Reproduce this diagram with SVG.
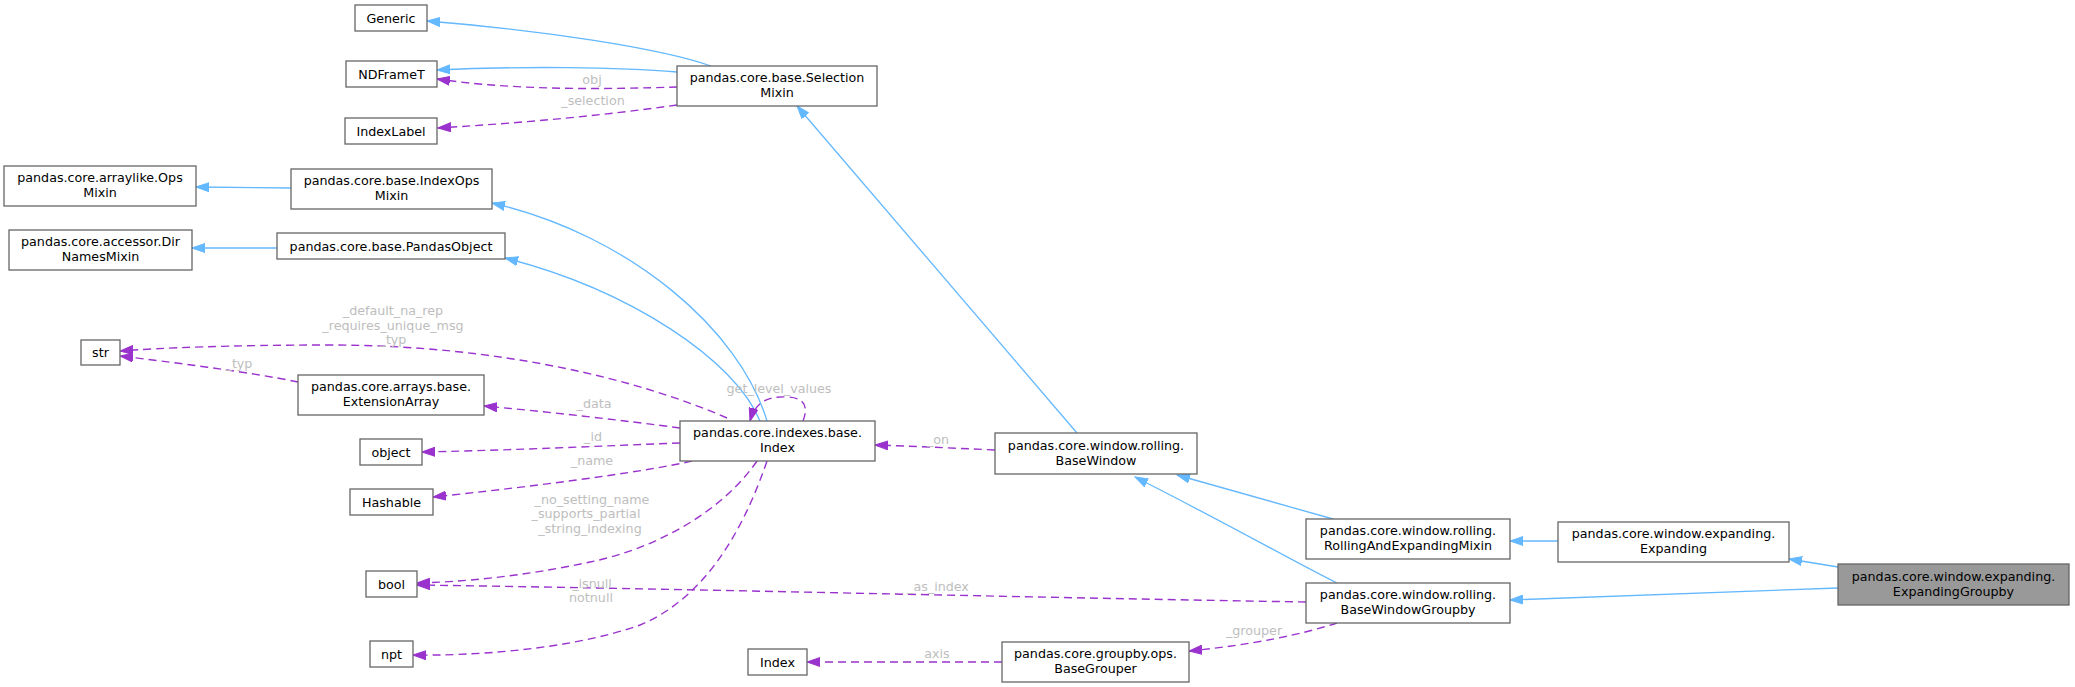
<svg xmlns="http://www.w3.org/2000/svg" width="2075" height="687" viewBox="0 0 2075 687">
<style>
.n rect{fill:#ffffff;stroke:#666666;stroke-width:1.3}
.n.hl rect{fill:#999999}
.n text{font-family:"DejaVu Sans","Liberation Sans",sans-serif;font-size:12.7px;fill:#000000;text-anchor:middle}
.e path{fill:none}
.inh{stroke:#63b8ff;stroke-width:1.3}
.use{stroke:#9a32cd;stroke-width:1.4;stroke-dasharray:8,5}
.lbl{font-family:"DejaVu Sans","Liberation Sans",sans-serif;font-size:12.7px;fill:#bebebe;text-anchor:middle}
</style>
<defs>
<marker id="ab" markerUnits="userSpaceOnUse" markerWidth="14" markerHeight="10" refX="13" refY="5" orient="auto"><path d="M0,0.5 L13,5 L0,9.5 z" fill="#63b8ff" stroke="#63b8ff" stroke-width="1"/></marker>
<marker id="ap" markerUnits="userSpaceOnUse" markerWidth="14" markerHeight="10" refX="13" refY="5" orient="auto"><path d="M0,0.5 L13,5 L0,9.5 z" fill="#9a32cd" stroke="#9a32cd" stroke-width="1"/></marker>
</defs>
<rect width="2075" height="687" fill="#ffffff"/>
<g id="edges" class="e">
<path class="inh" marker-end="url(#ab)" d="M711,66 C660,48 540,30 427,21"/>
<path class="inh" marker-end="url(#ab)" d="M677,72 C620,67 520,66 437,70"/>
<path class="use" marker-end="url(#ap)" d="M677,87 C610,89 520,91 437,79"/>
<path class="use" marker-end="url(#ap)" d="M677,105 C600,116 520,123 438,128"/>
<path class="inh" marker-end="url(#ab)" d="M1077,433 L797,106"/>
<path class="inh" marker-end="url(#ab)" d="M291,188 L196,187"/>
<path class="inh" marker-end="url(#ab)" d="M767,421 C740,330 630,235 492,203"/>
<path class="inh" marker-end="url(#ab)" d="M760,421 C735,360 630,290 505,258"/>
<path class="inh" marker-end="url(#ab)" d="M277,248 L192,248"/>
<path class="use" marker-end="url(#ap)" d="M727,418 C640,380 500,345 330,345 C230,345 160,348 120,351"/>
<path class="use" marker-end="url(#ap)" d="M298,382 C250,372 170,362 120,356"/>
<path class="use" marker-end="url(#ap)" d="M680,428 C620,420 550,412 484,406"/>
<path class="use" marker-end="url(#ap)" d="M680,443 C600,446 520,450 422,452"/>
<path class="use" marker-end="url(#ap)" d="M692,461 C640,473 520,488 433,497"/>
<path class="use" marker-end="url(#ap)" d="M757,461 C720,515 650,550 590,562 C520,577 460,582 417,583"/>
<path class="use" marker-end="url(#ap)" d="M767,461 C740,540 700,600 640,625 C570,650 470,656 413,655"/>
<path class="use" marker-end="url(#ap)" d="M1306,602 C1000,597 700,589 417,585"/>
<path class="use" marker-end="url(#ap)" d="M995,450 C950,448 910,446 875,445"/>
<path class="use" marker-end="url(#ap)" d="M803,421 C808,408 806,398 788,397 C770,396 756,400 750,421"/>
<path class="use" marker-end="url(#ap)" d="M1337,623 C1300,635 1250,645 1189,651"/>
<path class="use" marker-end="url(#ap)" d="M1002,662 L807,662"/>
<path class="inh" marker-end="url(#ab)" d="M1333,519 L1177,475"/>
<path class="inh" marker-end="url(#ab)" d="M1337,583 C1300,565 1230,525 1135,477"/>
<path class="inh" marker-end="url(#ab)" d="M1558,541 L1510,541"/>
<path class="inh" marker-end="url(#ab)" d="M1838,567 L1789,559"/>
<path class="inh" marker-end="url(#ab)" d="M1838,588 L1510,600"/>
<text class="lbl" x="592" y="83.5">obj</text>
<text class="lbl" x="593" y="104.5">_selection</text>
<text class="lbl" x="393" y="314.5">_default_na_rep</text>
<text class="lbl" x="393" y="329.5">_requires_unique_msg</text>
<text class="lbl" x="393" y="343.5">_typ</text>
<text class="lbl" x="239" y="367.5">_typ</text>
<text class="lbl" x="594" y="407.5">_data</text>
<text class="lbl" x="593" y="440.5">_id</text>
<text class="lbl" x="592" y="465">_name</text>
<text class="lbl" x="592" y="503.5">_no_setting_name</text>
<text class="lbl" x="586" y="517.5">_supports_partial</text>
<text class="lbl" x="590" y="532.5">_string_indexing</text>
<text class="lbl" x="592" y="587.5">_isnull</text>
<text class="lbl" x="591" y="601.5">notnull</text>
<text class="lbl" x="779" y="392.5">get_level_values</text>
<text class="lbl" x="938" y="443.5">_on</text>
<text class="lbl" x="938" y="590.5">_as_index</text>
<text class="lbl" x="1254" y="634.5">_grouper</text>
<text class="lbl" x="937" y="657.5">axis</text>
</g>
<g id="node_generic" class="n"><rect x="355" y="5" width="72" height="26"/><text x="391" y="22.5">Generic</text></g>
<g id="node_ndframet" class="n"><rect x="346" y="61" width="91" height="26"/><text x="391.5" y="78.5">NDFrameT</text></g>
<g id="node_indexlabel" class="n"><rect x="345" y="118" width="92" height="26"/><text x="391" y="135.5">IndexLabel</text></g>
<g id="node_selectionmixin" class="n"><rect x="677" y="66" width="200" height="40"/><text x="777" y="82">pandas.core.base.Selection</text><text x="777" y="97">Mixin</text></g>
<g id="node_opsmixin" class="n"><rect x="4" y="166" width="192" height="40"/><text x="100" y="182">pandas.core.arraylike.Ops</text><text x="100" y="197">Mixin</text></g>
<g id="node_indexopsmixin" class="n"><rect x="291" y="169" width="201" height="40"/><text x="391.5" y="185">pandas.core.base.IndexOps</text><text x="391.5" y="200">Mixin</text></g>
<g id="node_dirnamesmixin" class="n"><rect x="9" y="230" width="183" height="40"/><text x="100.5" y="246">pandas.core.accessor.Dir</text><text x="100.5" y="261">NamesMixin</text></g>
<g id="node_pandasobject" class="n"><rect x="277" y="233" width="228" height="26"/><text x="391" y="250.5">pandas.core.base.PandasObject</text></g>
<g id="node_str" class="n"><rect x="81" y="340" width="39" height="25"/><text x="100.5" y="357">str</text></g>
<g id="node_extensionarray" class="n"><rect x="298" y="375" width="186" height="40"/><text x="391" y="391">pandas.core.arrays.base.</text><text x="391" y="406">ExtensionArray</text></g>
<g id="node_object" class="n"><rect x="360" y="439" width="62" height="26"/><text x="391" y="456.5">object</text></g>
<g id="node_index" class="n"><rect x="680" y="421" width="195" height="40"/><text x="777.5" y="437">pandas.core.indexes.base.</text><text x="777.5" y="452">Index</text></g>
<g id="node_hashable" class="n"><rect x="350" y="489" width="83" height="26"/><text x="391.5" y="506.5">Hashable</text></g>
<g id="node_bool" class="n"><rect x="366" y="571" width="51" height="26"/><text x="391.5" y="588.5">bool</text></g>
<g id="node_npt" class="n"><rect x="370" y="641" width="43" height="26"/><text x="391.5" y="658.5">npt</text></g>
<g id="node_basewindow" class="n"><rect x="995" y="433" width="202" height="41"/><text x="1096" y="449.5">pandas.core.window.rolling.</text><text x="1096" y="464.5">BaseWindow</text></g>
<g id="node_rollingandexpandingmixin" class="n"><rect x="1306" y="519" width="204" height="40"/><text x="1408" y="535">pandas.core.window.rolling.</text><text x="1408" y="550">RollingAndExpandingMixin</text></g>
<g id="node_basewindowgroupby" class="n"><rect x="1306" y="583" width="204" height="40"/><text x="1408" y="599">pandas.core.window.rolling.</text><text x="1408" y="614">BaseWindowGroupby</text></g>
<g id="node_expanding" class="n"><rect x="1558" y="522" width="231" height="40"/><text x="1673.5" y="538">pandas.core.window.expanding.</text><text x="1673.5" y="553">Expanding</text></g>
<g id="node_expandinggroupby" class="n hl"><rect x="1838" y="564" width="231" height="41"/><text x="1953.5" y="580.5">pandas.core.window.expanding.</text><text x="1953.5" y="595.5">ExpandingGroupby</text></g>
<g id="node_index_small" class="n"><rect x="748" y="649" width="59" height="26"/><text x="777.5" y="666.5">Index</text></g>
<g id="node_basegrouper" class="n"><rect x="1002" y="642" width="187" height="40"/><text x="1095.5" y="658">pandas.core.groupby.ops.</text><text x="1095.5" y="673">BaseGrouper</text></g>
</svg>
